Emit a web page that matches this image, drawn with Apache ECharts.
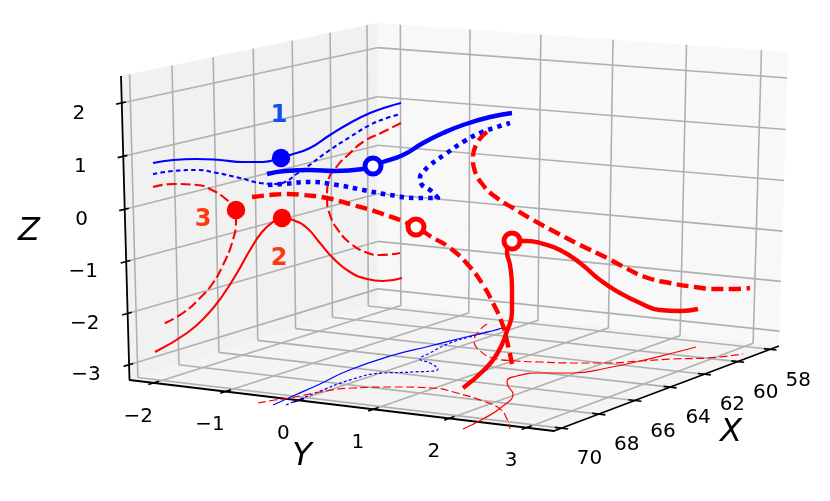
<!DOCTYPE html>
<html><head><meta charset="utf-8">
<style>html,body{margin:0;padding:0;background:#fff}#c{width:830px;height:501px}</style>
<script src="https://cdn.jsdelivr.net/npm/echarts@6/dist/echarts.min.js"></script>
</head><body><div id="c"></div>
<script>
// ---- axis ticks (data units of the 3D box)
const xTicks = [58,60,62,64,66,68,70];
const yTicks = [-2,-1,0,1,2,3];
const zTicks = [-3,-2,-1,0,1,2];
const xRange = [57.45,70.4], yRange = [-2.34,3.35], zRange = [-3.3,2.5];
// ---- picture-plane position of the box corners (A front-left, B front-right, C right, D back; T = top)
const cornerA=[129.5,380], cornerB=[554,431], cornerC=[779,346], cornerD=[378,303];
const cornerAT=[121,76], cornerDT=[377,23], cornerCT=[788,52];
// ---- curves as read in the picture plane
const thinBlue = [[153,163],[173,160],[197,159],[220,160],[243,162],[263,162],[281,158],[290,155],[310,148],[330,135],[350,123],[370,113],[387,107],[401,103]];
const thinBlueDotted = [[153,174],[173,171],[197,170],[217,173],[240,178],[260,183],[275,184],[285,182],[298,173],[307,167],[327,152],[350,137],[370,125],[387,118],[401,114]];
const thinRedSolid = [[155,352],[187,333],[207,315],[223,295],[237,273],[250,250],[262,232],[273,222],[282,218],[293,220],[307,228],[320,243],[333,258],[350,272],[367,279],[383,281],[402,278]];
const thinRedDashA = [[153,187],[173,184],[197,185],[210,189],[227,200],[236,210],[236,220],[232,243],[223,265],[213,283],[200,298],[183,313],[163,324]];
const thinRedDashB = [[401,123],[383,132],[363,142],[348,155],[338,165],[328,182],[327,198],[330,215],[338,230],[350,243],[365,252],[380,255],[400,253]];
const thickBlue = [[267,174],[285,171],[310,170],[335,171],[363,169],[383,162],[403,155],[423,143],[443,133],[463,125],[490,117],[512,113]];
const thickBlueDotted = [[268,185],[283,184],[310,182],[337,185],[363,190],[390,195],[417,198],[438,198],[430,190],[422,185],[420,178],[425,170],[430,165],[447,153],[463,142],[480,133],[497,127],[510,123]];
const thickRedDashRight = [[487,132],[477,143],[473,160],[474,168],[483,185],[497,198],[513,208],[533,220],[557,233],[580,245],[607,258],[620,265],[645,277],[670,283],[695,287],[715,289],[733,289],[750,288]];
const thickRedDashMid = [[252,197],[270,195],[287,194],[303,195],[327,198],[353,205],[380,213],[416,227],[430,236],[450,248],[470,267],[483,285],[493,303],[502,323],[507,341],[512,364]];
const thickRedSolidA = [[698,309],[680,311],[660,310],[640,303],[620,293],[600,280],[580,263],[560,250],[540,243],[527,241],[512,241]];
const thickRedSolidB = [[512,241],[507,252],[510,265],[512,288],[512,312],[507,331],[497,354],[483,371],[463,388]];
const floorBlue = [[273,405],[293,396],[320,384],[347,371],[390,356],[430,346],[470,336],[492,331],[502,328]];
const floorBlueDotted = [[286,405],[313,394],[353,379],[383,373],[413,372],[438,369],[430,363],[420,359],[430,353],[450,343],[473,336],[490,331]];
const floorRedDashA = [[258,403],[275,400],[290,398],[320,392],[353,388],[393,387],[433,388],[457,393],[483,401],[500,409],[507,419],[510,429]];
const floorRedSolid = [[463,429],[483,419],[503,406],[513,394],[508,386],[507,381],[517,376],[540,373],[573,373],[607,368],[640,361],[673,353],[696,347]];
const floorRedDashB = [[487,324],[480,330],[474,341],[478,349],[493,358],[517,361],[540,362],[573,363],[607,363],[640,361],[673,359],[707,358],[743,354]];
const filledMarkers = {blue:[[281,158]], red:[[282,218],[236,210]]};
const openMarkers = {blue:[[373,166]], red:[[416,227],[512,241]]};
const numberLabels = [['1',279,116,'#1450f0'],['2',279,259,'#ff3810'],['3',203,220,'#ff3810']];

// plane mapping from unit square to picture-plane quadrilateral
function quad(p0,p1,p2,p3){
  const dx1=p1[0]-p2[0],dx2=p3[0]-p2[0],sx=p0[0]-p1[0]+p2[0]-p3[0];
  const dy1=p1[1]-p2[1],dy2=p3[1]-p2[1],sy=p0[1]-p1[1]+p2[1]-p3[1];
  const den=dx1*dy2-dx2*dy1;
  const g=(sx*dy2-dx2*sy)/den,h=(dx1*sy-sx*dy1)/den;
  const a=p1[0]-p0[0]+g*p1[0],b=p3[0]-p0[0]+h*p3[0],c=p0[0];
  const d=p1[1]-p0[1]+g*p1[1],e=p3[1]-p0[1]+h*p3[1],f=p0[1];
  return (u,v)=>{const w=g*u+h*v+1;return [(a*u+b*v+c)/w,(d*u+e*v+f)/w];};
}
const floorMap=quad(cornerA,cornerB,cornerC,cornerD);
const leftMap=quad(cornerA,cornerD,cornerDT,cornerAT);
const rightMap=quad(cornerD,cornerC,cornerCT,cornerDT);
const nx=x=>(x-xRange[1])/(xRange[0]-xRange[1]);
const ny=y=>(y-yRange[0])/(yRange[1]-yRange[0]);
const nz=z=>(z-zRange[0])/(zRange[1]-zRange[0]);

const series=[];
function pane(pts,color){
  series.push({type:'custom',coordinateSystem:'cartesian2d',silent:true,z:1,clip:false,data:pts,
    encode:{x:0,y:1},
    renderItem:(p,api)=>p.dataIndex===0?{type:'polygon',shape:{points:pts.map(q=>api.coord(q))},style:{fill:color,stroke:null}}:null});
}
pane([cornerA,cornerD,cornerDT,cornerAT],'#f1f1f1');
pane([cornerD,cornerC,cornerCT,cornerDT],'#f8f8f8');
pane([cornerA,cornerB,cornerC,cornerD],'#f4f4f4');

function seg(data,color,width,z){
  series.push({type:'line',data,symbol:'none',silent:true,clip:false,z,lineStyle:{color,width,cap:'butt'}});
}
const gridC='#b0b0b0',gridW=1.6;
xTicks.forEach(x=>{
  seg([floorMap(0,nx(x)),floorMap(1,nx(x))],gridC,gridW,2);
  seg([leftMap(nx(x),0),leftMap(nx(x),1)],gridC,gridW,2);
});
yTicks.forEach(y=>{
  seg([floorMap(ny(y),0),floorMap(ny(y),1)],gridC,gridW,2);
  seg([rightMap(ny(y),0),rightMap(ny(y),1)],gridC,gridW,2);
});
zTicks.forEach(z=>{
  seg([leftMap(0,nz(z)),leftMap(1,nz(z))],gridC,gridW,2);
  seg([rightMap(0,nz(z)),rightMap(1,nz(z))],gridC,gridW,2);
});
// box edges and tick marks
seg([cornerAT,cornerA,cornerB,cornerC],'#000',1.8,3);
xTicks.forEach(x=>seg([floorMap(1-0.015,nx(x)),floorMap(1+0.015,nx(x))],'#000',1.6,3));
yTicks.forEach(y=>seg([floorMap(ny(y),-0.02),floorMap(ny(y),0.02)],'#000',1.6,3));
zTicks.forEach(z=>seg([leftMap(-0.02,nz(z)),leftMap(0.015,nz(z))],'#000',1.6,3));

function curve(data,color,width,dash,z){
  series.push({type:'line',data,symbol:'none',silent:true,clip:false,smooth:0.5,z:z,
    lineStyle:{color,width,type:dash||'solid',cap:'butt',join:'round'}});
}
const B='#0000ff',R='#ff0000';
curve(floorBlue,B,1.2,null,4);
curve(floorBlueDotted,B,1.2,[3,2.2],4);
curve(floorRedDashA,R,1.2,[8,3.5],4);
curve(floorRedDashB,R,1.2,[8,3.5],4);
curve(floorRedSolid,R,1.2,null,4);
curve(thinBlue,B,2.1,null,5);
curve(thinBlueDotted,B,2.1,[4.5,3.2],5);
curve(thinRedSolid,R,2.1,null,5);
curve(thinRedDashA,R,2.1,[10,4],5);
curve(thinRedDashB,R,2.1,[10,4],5);
curve(thickBlue,B,4.4,null,6);
curve(thickBlueDotted,B,4.6,[4.5,5],6);
curve(thickRedDashRight,R,4.4,[12,5.5],6);
curve(thickRedDashMid,R,4.4,[12,5.5],6);
curve(thickRedSolidA,R,4.4,null,6);
curve(thickRedSolidB,R,4.4,null,6);

function markers(data,color,open){
  series.push({type:'scatter',data,symbol:'circle',symbolSize:open?16:18.5,silent:true,clip:false,z:7,
    itemStyle:open?{color:'#fff',borderColor:color,borderWidth:5,opacity:1}:{color,opacity:1}});
}
markers(filledMarkers.blue,B,false);markers(filledMarkers.red,R,false);
markers(openMarkers.blue,B,true);markers(openMarkers.red,R,true);

function texts(items,font){
  series.push({type:'scatter',data:items.map(t=>({value:[t.x,t.y],name:t.s,
      label:{show:true,position:'inside',formatter:t.s,color:t.c||'#000',opacity:1,...font}})),
    symbolSize:1,itemStyle:{color:'rgba(0,0,0,0)',opacity:1},silent:true,clip:false,z:8});
}
const tickFont={fontFamily:'DejaVu Sans',fontSize:20,align:'center',verticalAlign:'middle'};
const fmt=v=>String(v).replace('-','\u2212');
texts(xTicks.map(x=>{const p=floorMap(1,nx(x));return {s:fmt(x),x:p[0]+28,y:p[1]+31};}),tickFont);
texts(yTicks.map(y=>{const p=floorMap(ny(y),0);return {s:fmt(y),x:p[0]-15.5,y:p[1]+33.5};}),tickFont);
texts(zTicks.map(z=>{const p=leftMap(0,nz(z));return {s:fmt(z),x:p[0]-43,y:p[1]+10.5};}),tickFont);
const axisFont={fontFamily:'DejaVu Sans',fontStyle:'italic',fontSize:32,align:'center',verticalAlign:'middle'};
texts([{s:'X',x:731,y:433},{s:'Y',x:302,y:457},{s:'Z',x:29,y:232}],axisFont);
texts(numberLabels.map(n=>({s:n[0],x:n[1],y:n[2],c:n[3]})),{fontFamily:'DejaVu Sans',fontWeight:'bold',fontSize:24,align:'center',verticalAlign:'middle'});

const chart=echarts.init(document.getElementById('c'),null,{renderer:'canvas',width:830,height:501});
chart.setOption({
  animation:false,backgroundColor:'#fff',
  grid:{left:0,right:0,top:0,bottom:0},
  xAxis:{type:'value',min:0,max:830,show:false},
  yAxis:{type:'value',min:0,max:501,inverse:true,show:false},
  series
});
</script></body></html>
